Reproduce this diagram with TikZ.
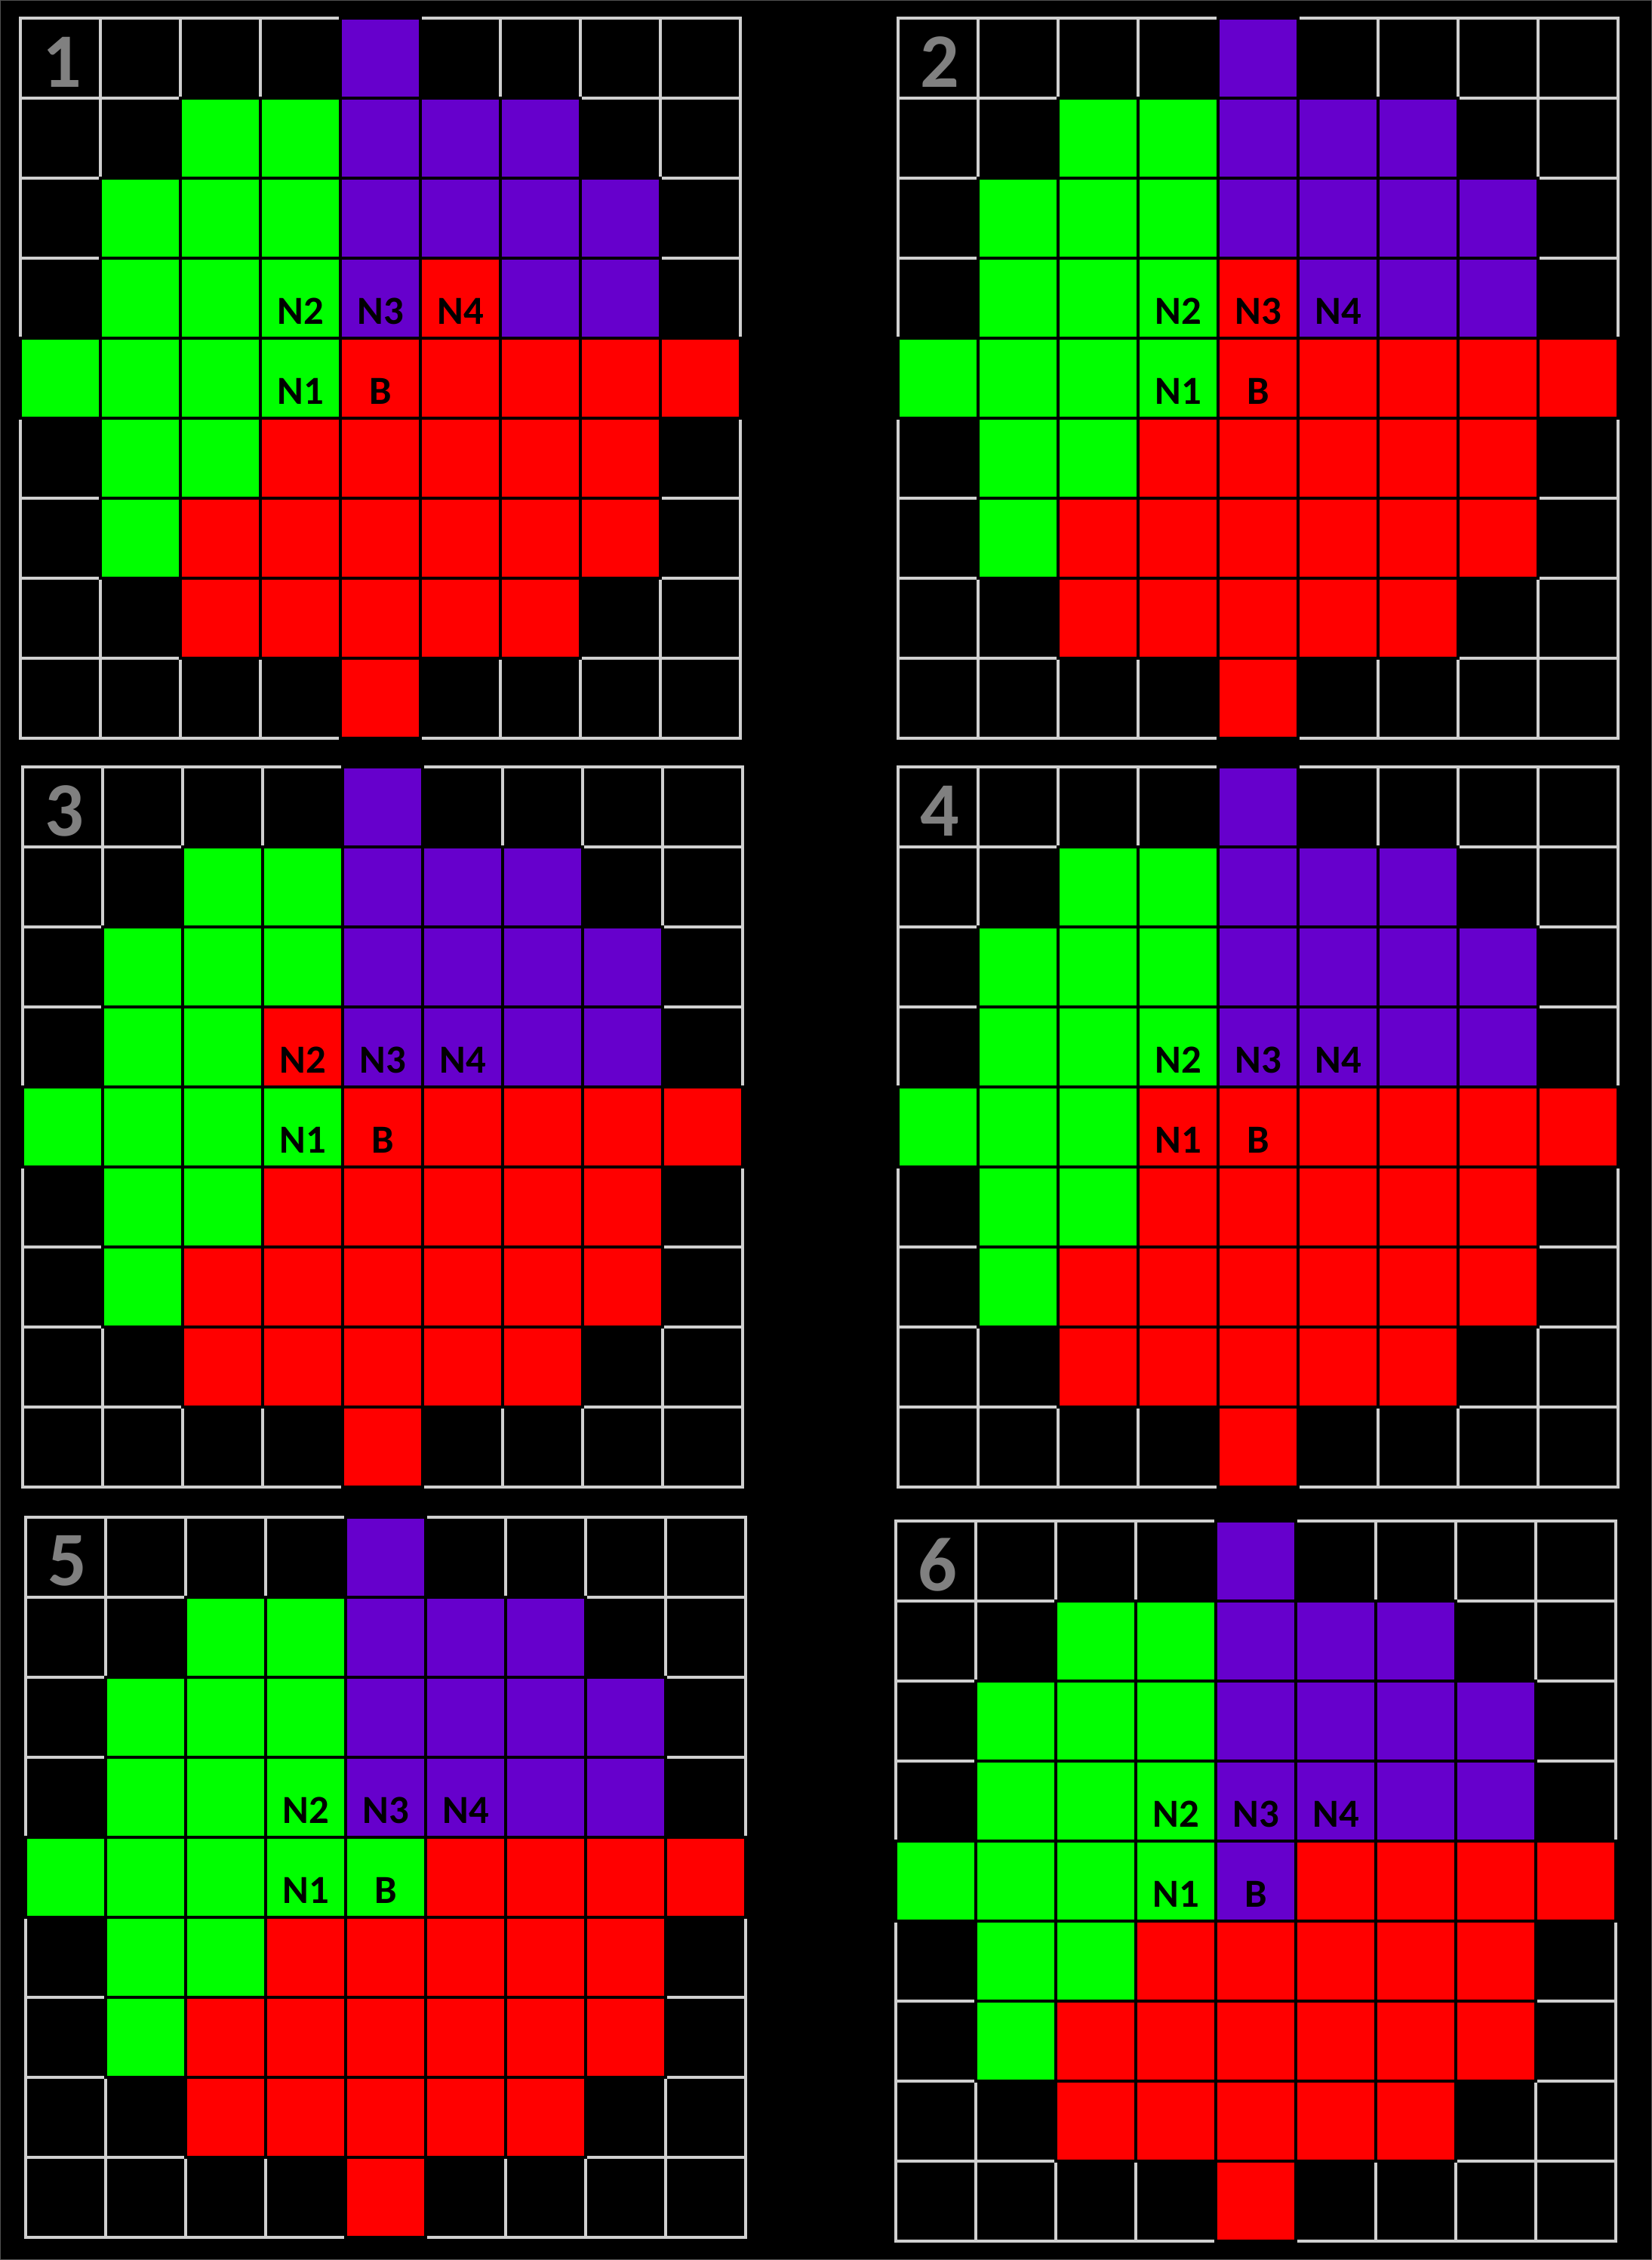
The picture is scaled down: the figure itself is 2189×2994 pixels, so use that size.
\documentclass[tikz,border=0pt]{standalone}
\usepackage{fontspec}
\setmainfont{Carlito}
\usetikzlibrary{positioning}
\definecolor{cellgreen}{HTML}{00FF00}
\definecolor{cellpurple}{HTML}{6600CC}
\definecolor{cellred}{HTML}{FF0000}
\definecolor{gridgray}{HTML}{D0D0D0}
\definecolor{numgray}{HTML}{808080}
\definecolor{framegray}{HTML}{505050}
\tikzset{
    emptycell/.style = {
        draw=gridgray,
        fill=black,
        line width=0.9pt
    },
    fullcell/.style = {
        draw=black,
        line width=1.1pt
    },
    tag/.style = {
        font=\bfseries\fontsize{15}{15}\selectfont,
        text=black,
        inner sep=0pt
    },
    panelnum/.style = {
        font=\bfseries\fontsize{29}{29}\selectfont,
        text=numgray,
        inner sep=0pt
    },
}
% one 9x9 panel: #1,#2 corner, #3 number, #4,#5 changed cell, #6 its colour
\newcommand{\drawpanel}[6]{%
    \begin{scope}[shift={(#1,#2)}]
        \foreach \r in {0,...,8}
            \foreach \c in {0,...,8}
                \draw[emptycell] (\c*106,\r*106) rectangle ++(106,106);
        \foreach \r/\a/\b/\f in {0/4/4/cellpurple, 1/2/3/cellgreen, 1/4/6/cellpurple,
                2/1/3/cellgreen, 2/4/7/cellpurple, 3/1/3/cellgreen, 3/4/7/cellpurple,
                4/0/3/cellgreen, 4/4/8/cellred, 5/1/2/cellgreen, 5/3/7/cellred,
                6/1/1/cellgreen, 6/2/7/cellred, 7/2/6/cellred, 8/4/4/cellred}
            \foreach \c in {\a,...,\b}
                \draw[fullcell, fill=\f] (\c*106,\r*106) rectangle ++(106,106);
        \draw[fullcell, fill=#6] (#4*106,#5*106) rectangle ++(106,106);

        \node[panelnum] (num#3) at (55,58) {#3};
        \node[tag] (ntwo#3) at (3.5*106,3.5*106+17) {N2};
        \node[tag] (nthree#3) at (4.5*106,3.5*106+17) {N3};
        \node[tag] (nfour#3) at (5.5*106,3.5*106+17) {N4};
        \node[tag] (none#3) at (3.5*106,4.5*106+17) {N1};
        \node[tag] (base#3) at (4.5*106,4.5*106+17) {B};
    \end{scope}
}
\begin{document}
\begin{tikzpicture}[x=0.01cm, y=-0.01cm]
    \useasboundingbox (0,0) rectangle (2189,2994);
    \fill[black] (0,0) rectangle (2189,2994);
    \draw[framegray, line width=0.6pt] (0,0) rectangle (2189,2994);

    \drawpanel{27}{24}{1}{5}{3}{cellred}
    \drawpanel{1190}{24}{2}{4}{3}{cellred}
    \drawpanel{30}{1016}{3}{3}{3}{cellred}
    \drawpanel{1190}{1016}{4}{3}{4}{cellred}
    \drawpanel{34}{2010}{5}{4}{4}{cellgreen}
    \drawpanel{1187}{2015}{6}{4}{4}{cellpurple}
\end{tikzpicture}
\end{document}
